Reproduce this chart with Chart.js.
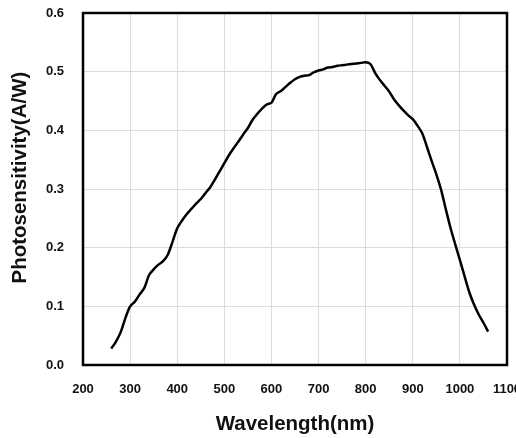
<!DOCTYPE html>
<html>
<head>
<meta charset="utf-8">
<script src="https://cdn.jsdelivr.net/npm/chart.js@4"></script>
<style>
  html, body { margin: 0; padding: 0; background: #fff; overflow: hidden; }
  canvas { display: block; }
</style>
</head>
<body>
<canvas id="chart" width="522" height="438"></canvas>
<script>
const wavelengths = [260, 270, 280, 290, 300, 310, 320, 330, 340, 350, 360, 370, 380, 390, 400, 410, 420, 430, 440, 450, 460, 470, 480, 490, 500, 510, 520, 530, 540, 550, 560, 570, 580, 590, 600, 610, 620, 630, 640, 650, 660, 670, 680, 690, 700, 710, 720, 730, 740, 750, 760, 770, 780, 790, 800, 810, 820, 830, 840, 850, 860, 870, 880, 890, 900, 910, 920, 930, 940, 950, 960, 970, 980, 990, 1000, 1010, 1020, 1030, 1040, 1050, 1060];
const sensitivity = [0.028, 0.04, 0.056, 0.08, 0.1, 0.108, 0.12, 0.131, 0.153, 0.163, 0.171, 0.177, 0.188, 0.21, 0.233, 0.246, 0.257, 0.266, 0.275, 0.283, 0.293, 0.303, 0.316, 0.33, 0.344, 0.358, 0.37, 0.381, 0.393, 0.404, 0.418, 0.428, 0.437, 0.444, 0.447, 0.462, 0.467, 0.474, 0.481, 0.487, 0.491, 0.493, 0.494, 0.499, 0.502, 0.504, 0.507, 0.508, 0.51, 0.511, 0.512, 0.513, 0.514, 0.515, 0.516, 0.513, 0.498, 0.486, 0.476, 0.466, 0.453, 0.443, 0.434, 0.426, 0.419, 0.408, 0.395, 0.372, 0.348, 0.325, 0.299, 0.266, 0.234, 0.206, 0.179, 0.151, 0.124, 0.103, 0.086, 0.072, 0.057];
const xTicks = [200, 300, 400, 500, 600, 700, 800, 900, 1000, 1100];
const yTicks = [0.0, 0.1, 0.2, 0.3, 0.4, 0.5, 0.6];

// frame round the plot area
const boxPlugin = {
  id: "box",
  afterDraw(chart) {
    const { ctx, chartArea } = chart;
    ctx.save();
    ctx.strokeStyle = "#000";
    ctx.lineWidth = 2.5;
    ctx.strokeRect(chartArea.left, chartArea.top, chartArea.right - chartArea.left, chartArea.bottom - chartArea.top);
    ctx.restore();
  },
};

const tickFont = { family: "'Liberation Sans', Arial, sans-serif", size: 13, weight: "bold" };
const titleFont = { family: "'Liberation Sans', Arial, sans-serif", size: 20.5, weight: "bold" };

new Chart(document.getElementById("chart").getContext("2d"), {
  type: "line",
  data: {
    datasets: [
      {
        data: wavelengths.map((w, i) => ({ x: w, y: sensitivity[i] })),
        borderColor: "#000",
        borderWidth: 2.5,
        pointRadius: 0,
        tension: 0.3,
        fill: false,
      },
    ],
  },
  options: {
    responsive: false,
    animation: false,
    layout: { padding: { top: 13, right: 15, left: 0, bottom: 0 } },
    plugins: { legend: { display: false }, tooltip: { enabled: false } },
    scales: {
      x: {
        type: "linear",
        min: 200,
        max: 1100,
        afterBuildTicks: (scale) => { scale.ticks = xTicks.map((v) => ({ value: v })); },
        afterFit: (scale) => {
          scale.height = 73;
          scale.paddingLeft = 0;
          scale.paddingRight = 0;
        },
        ticks: { color: "#111", font: tickFont, padding: 17, maxRotation: 0, autoSkip: false, callback: (v) => String(v) },
        grid: { color: "#dcdcdc", lineWidth: 1, drawTicks: false },
        border: { display: false },
        title: { display: true, text: "Wavelength(nm)", color: "#111", font: titleFont, padding: { top: 4, bottom: 1 } },
      },
      y: {
        min: 0,
        max: 0.6,
        afterBuildTicks: (scale) => { scale.ticks = yTicks.map((v) => ({ value: v })); },
        afterFit: (scale) => {
          scale.width = 83;
          scale.paddingTop = 0;
          scale.paddingBottom = 0;
        },
        ticks: { color: "#111", font: tickFont, padding: 19, callback: (v) => v.toFixed(1) },
        grid: { color: "#dcdcdc", lineWidth: 1, drawTicks: false },
        border: { display: false },
        title: { display: true, text: "    Photosensitivity(A/W)", color: "#111", font: titleFont, padding: { top: 8, bottom: 4 } },
      },
    },
  },
  plugins: [boxPlugin],
});
</script>
</body>
</html>
